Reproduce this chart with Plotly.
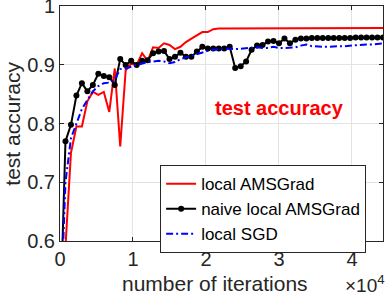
import plotly.graph_objects as go

iterations = [750 * k for k in range(60)]

local_amsgrad = [0.10, 0.59, 0.75, 0.795, 0.795, 0.838, 0.854, 0.849, 0.854, 0.820,
                 0.894, 0.761, 0.891, 0.902, 0.900, 0.920, 0.907, 0.930, 0.929, 0.937,
                 0.934, 0.927, 0.931, 0.939, 0.945, 0.950, 0.956, 0.956, 0.961, 0.962,
                 0.962, 0.963, 0.963, 0.963, 0.963, 0.963, 0.963, 0.963, 0.963, 0.963,
                 0.963, 0.963, 0.963, 0.963, 0.963, 0.963, 0.963, 0.963, 0.963, 0.963,
                 0.963, 0.963, 0.963, 0.963, 0.963, 0.963, 0.963, 0.963, 0.963, 0.963]

naive_local_amsgrad = [0.45, 0.770, 0.798, 0.848, 0.869, 0.855, 0.866, 0.885, 0.881, 0.879,
                       0.866, 0.910, 0.900, 0.907, 0.900, 0.907, 0.908, 0.920, 0.923, 0.924,
                       0.910, 0.914, 0.921, 0.914, 0.914, 0.923, 0.931, 0.928, 0.928, 0.928,
                       0.928, 0.931, 0.895, 0.898, 0.906, 0.926, 0.933, 0.934, 0.940, 0.941,
                       0.937, 0.945, 0.937, 0.943, 0.945, 0.945, 0.946, 0.946, 0.946, 0.946,
                       0.946, 0.946, 0.946, 0.946, 0.947, 0.947, 0.947, 0.947, 0.947, 0.947]

local_sgd = [0.45, 0.700, 0.775, 0.800, 0.825, 0.840, 0.855, 0.864, 0.869, 0.870,
             0.875, 0.893, 0.894, 0.897, 0.900, 0.902, 0.905, 0.906, 0.907, 0.906,
             0.903, 0.905, 0.910, 0.913, 0.916, 0.919, 0.922, 0.924, 0.926, 0.927,
             0.927, 0.928, 0.927, 0.928, 0.929, 0.930, 0.930, 0.929, 0.929, 0.931,
             0.929, 0.929, 0.929, 0.930, 0.933, 0.935, 0.932, 0.931, 0.931, 0.931,
             0.932, 0.932, 0.932, 0.933, 0.933, 0.934, 0.935, 0.935, 0.936, 0.937]

x_tickvals = [0, 10000, 20000, 30000, 40000]
x_ticktext = ["0", "1", "2", "3", "4"]
y_tickvals = [0.6, 0.7, 0.8, 0.9, 1.0]
y_ticktext = ["0.6", "0.7", "0.8", "0.9", "1"]

FONT = "Liberation Sans, Arial, sans-serif"
AX = "#262626"

fig = go.Figure()
fig.add_trace(go.Scatter(x=iterations, y=local_amsgrad, mode="lines", name="local AMSGrad",
                         line=dict(color="#ff0000", width=2)))
fig.add_trace(go.Scatter(x=iterations, y=naive_local_amsgrad, mode="lines+markers",
                         name="naive local AMSGrad",
                         line=dict(color="#000000", width=2),
                         marker=dict(color="#000000", size=6)))
fig.add_trace(go.Scatter(x=iterations, y=local_sgd, mode="lines", name="local SGD",
                         line=dict(color="#0000ff", width=2, dash="7px,3px,2px,3px")))

axis_common = dict(showline=True, linecolor=AX, linewidth=1, mirror="allticks",
                   ticks="inside", ticklen=4, tickcolor=AX, showgrid=True,
                   gridcolor="#e3e3e3", gridwidth=1, zeroline=False, automargin=False,
                   tickfont=dict(family=FONT, size=20, color=AX))

fig.update_xaxes(range=[0, 44250], tickvals=x_tickvals, ticktext=x_ticktext, **axis_common)
fig.update_yaxes(range=[0.6, 1.0005], tickvals=y_tickvals, ticktext=y_ticktext,
                 ticklabeloverflow="allow", **axis_common)

fig.update_layout(
    width=388, height=301, autosize=False,
    margin=dict(l=60, r=5, t=6, b=60, autoexpand=False),
    paper_bgcolor="white", plot_bgcolor="white",
    font=dict(family=FONT, color=AX),
    showlegend=True,
    legend=dict(x=0.31, y=0.323, xanchor="left", yanchor="top",
                bgcolor="white", bordercolor=AX, borderwidth=1,
                font=dict(family=FONT, size=17, color="#000000"),
                itemwidth=30, tracegroupgap=0),
    annotations=[
        dict(text="test accuracy", xref="paper", yref="paper", x=-0.148, y=0.5,
             textangle=-90, showarrow=False, xanchor="center", yanchor="middle",
             font=dict(family=FONT, size=21, color=AX)),
        dict(text="number of iterations", xref="paper", yref="paper", x=0.481, y=-0.179,
             showarrow=False, xanchor="center", yanchor="middle",
             font=dict(family=FONT, size=21, color=AX)),
        dict(text="×10<sup>4</sup>", xref="paper", yref="paper", x=1.012, y=-0.185,
             showarrow=False, xanchor="right", yanchor="middle",
             font=dict(family=FONT, size=19, color=AX)),
        dict(text="<b>test accuracy</b>", xref="paper", yref="paper", x=0.681, y=0.566,
             showarrow=False, xanchor="center", yanchor="middle",
             font=dict(family=FONT, size=20, color="#ff0000")),
    ],
)

fig.write_html("out.html", config={"displayModeBar": False},
               post_script="document.body.style.margin='0';document.body.style.overflow='hidden';")
